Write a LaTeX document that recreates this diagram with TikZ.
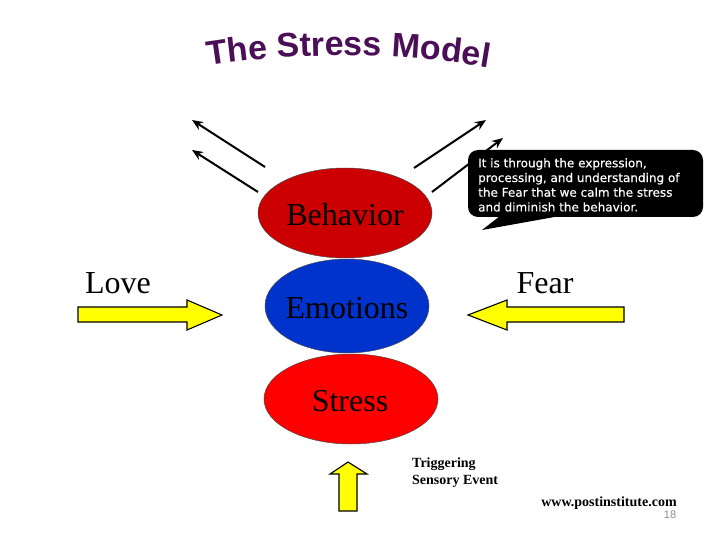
\documentclass[tikz,border=0pt]{standalone}
\usepackage{fontspec}
\setmainfont{Liberation Serif}
\newfontfamily\titlefont{Liberation Sans}
\newfontfamily\callfont[FakeBold=0.4]{DejaVu Sans}
\usetikzlibrary{arrows.meta,decorations.text,shapes.geometric}
\definecolor{titlepurple}{HTML}{4B0F57}
\definecolor{behavred}{HTML}{CC0000}
\definecolor{emoblue}{HTML}{0033CC}
\definecolor{stressred}{HTML}{FF0000}
\definecolor{arrowyellow}{HTML}{FFFF00}
\tikzset{
  blob/.style={draw=black!70,line width=0.5pt,ellipse,inner sep=0pt},
  bigarrow/.style={draw=black,line width=1.1pt,fill=arrowyellow,line join=miter},
  outarrow/.style={draw=black,line width=2pt,-{Stealth[length=11pt,width=9pt]}},
  biglabel/.style={inner sep=0pt,font=\fontsize{32}{32}\selectfont},
  smalllabel/.style={inner sep=0pt,align=left,font=\fontsize{14}{17}\selectfont\bfseries,anchor=west},
}
\begin{document}
\begin{tikzpicture}[x=1pt,y=-1pt]
\useasboundingbox (0,0) rectangle (720,540);
\fill[white] (0,0) rectangle (720,540);
% title
\path[decorate,decoration={text along path,text align=center,
  text={|\fontsize{34}{34}\titlefont\bfseries\color{titlepurple}|The Stress Model}}]
  (206,66) .. controls (290,52) and (400,52) .. (491,68);
% out arrows
\coordinate (la1s) at (265,167); \coordinate (la1e) at (192,120);
\coordinate (la2s) at (258,192); \coordinate (la2e) at (192,150);
\coordinate (ra1s) at (414,168); \coordinate (ra1e) at (486,120);
\coordinate (ra2s) at (432,192); \coordinate (ra2e) at (503,138);
\draw[outarrow] (la1s) -- (la1e);
\draw[outarrow] (la2s) -- (la2e);
\draw[outarrow] (ra1s) -- (ra1e);
\draw[outarrow] (ra2s) -- (ra2e);
% ellipses
\node[blob,fill=behavred,minimum width=174pt,minimum height=90pt] (behav) at (345,213) {};
\node[blob,fill=emoblue,minimum width=164pt,minimum height=94pt] (emo) at (347,306) {};
\node[blob,fill=stressred,minimum width=174pt,minimum height=90pt] (stress) at (351,399) {};
\node[biglabel] (behavt) at (345,215) {Behavior};
\node[biglabel] (emot) at (347,308) {Emotions};
\node[biglabel] (stresst) at (350,401) {Stress};
% callout
\fill[black,rounded corners=10pt] (468,150) rectangle (703,217);
\fill[black] (482,230) -- (500,216) -- (560,216) -- cycle;
\node[inner sep=0pt,anchor=north west,align=left,text=white,font=\fontsize{12}{14.7}\callfont] (calltext) at (478,158)
 {It is through the expression,\\processing, and understanding of\\the Fear that we calm the stress\\and diminish the behavior.};
% yellow arrows
\draw[bigarrow] (78,307) -- (187,307) -- (187,300) -- (222,315) -- (187,330) -- (187,322) -- (78,322) -- cycle;
\draw[bigarrow] (624,307) -- (507,307) -- (507,300) -- (468,315) -- (507,330) -- (507,322) -- (624,322) -- cycle;
\draw[bigarrow] (339,511) -- (339,474) -- (330,474) -- (348,462) -- (367,474) -- (357,474) -- (357,511) -- cycle;
% labels
\node[biglabel] (love) at (118,283) {Love};
\node[biglabel] (fear) at (545,283) {Fear};
\node[smalllabel] (trig) at (412,472.5) {Triggering\\Sensory Event};
\node[inner sep=0pt,font=\fontsize{14}{14}\selectfont\bfseries] (web) at (609,503) {www.postinstitute.com};
\node[inner sep=0pt,text=black!45,font=\fontsize{11}{11}\titlefont] (page) at (670,515) {18};
\end{tikzpicture}
\end{document}
